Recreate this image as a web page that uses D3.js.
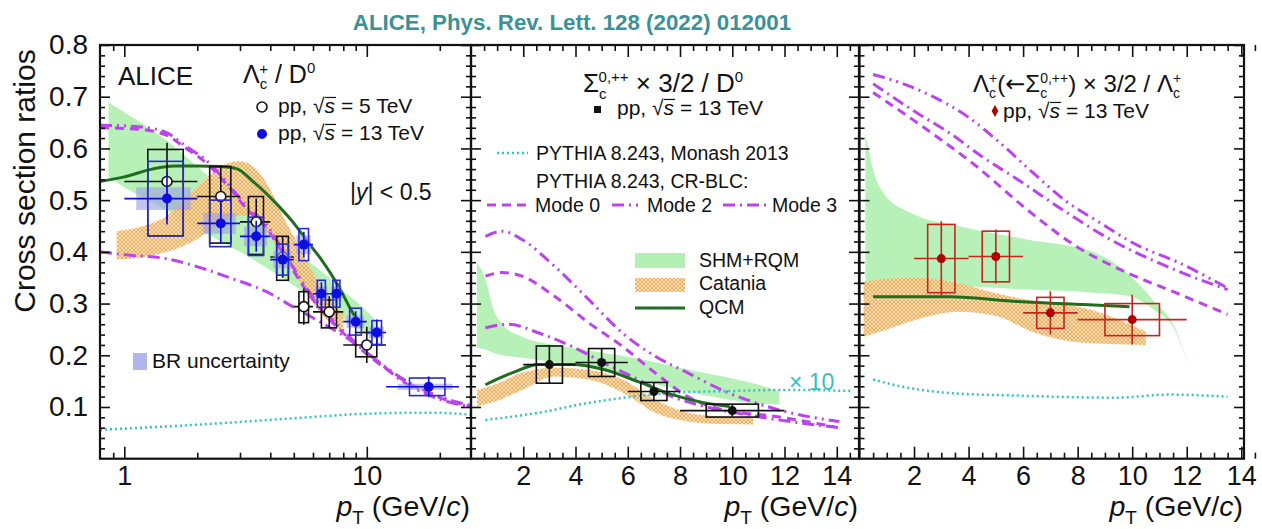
<!DOCTYPE html>
<html><head><meta charset="utf-8">
<script src="https://cdn.jsdelivr.net/npm/d3@7"></script>
<style>
body{margin:0;background:#fff}
svg{display:block}
text{font-family:"Liberation Sans",Arial,Helvetica,sans-serif;fill:#111}
</style>
</head><body>
<svg id="chart" width="1262" height="529"></svg>
<script>
// ---------------- Panel 1: Lambda_c+/D0 ----------------
const lc5_pt   = [1.5, 2.5, 3.5, 4.5, 5.5, 7, 10];
const lc5_lo   = [1, 2, 3, 4, 5, 6, 8];
const lc5_hi   = [2, 3, 4, 5, 6, 8, 12];
const lc5_val  = [0.536, 0.507, 0.458, 0.39, 0.294, 0.284, 0.22];
const lc5_stat = [0.075, 0.06, 0.045, 0.04, 0.035, 0.03, 0.035];
const lc5_sysLo = [0.105, 0.09, 0.063, 0.045, 0.031, 0.031, 0.023];
const lc5_sysHi = [0.062, 0.058, 0.049, 0.04, 0.029, 0.023, 0.024];

const lc13_pt   = [1.5, 2.5, 3.5, 4.5, 5.5, 6.5, 7.5, 9, 11, 18];
const lc13_lo   = [1, 2, 3, 4, 5, 6, 7, 8, 10, 12];
const lc13_hi   = [2, 3, 4, 5, 6, 7, 8, 10, 12, 24];
const lc13_val  = [0.503, 0.455, 0.43, 0.385, 0.414, 0.319, 0.319, 0.265, 0.244, 0.139];
const lc13_stat = [0.05, 0.04, 0.03, 0.028, 0.025, 0.022, 0.022, 0.02, 0.025, 0.02];
const lc13_sys  = [0.072, 0.045, 0.037, 0.03, 0.031, 0.026, 0.026, 0.026, 0.023, 0.017];
const lc13_br   = [0.022, 0.02, 0.019, 0.017, 0.018, 0.014, 0.014, 0.012, 0.011, 0.006];

const shm1_pt = [0.86, 1.0, 1.5, 2.0, 2.5, 3.0, 4.0, 5.0, 6.0, 7.0, 8.0, 9.0, 10.0, 11.0];
const shm1_hi = [0.69, 0.67, 0.615, 0.565, 0.525, 0.49, 0.44, 0.40, 0.375, 0.35, 0.325, 0.305, 0.285, 0.265];
const shm1_lo = [0.545, 0.525, 0.48, 0.445, 0.42, 0.40, 0.365, 0.335, 0.31, 0.29, 0.27, 0.255, 0.24, 0.23];

const cat1_pt = [0.93, 1.2, 1.5, 2.0, 2.5, 3.0, 3.5, 4.0, 4.5, 5.0, 6.0, 7.0, 8.0];
const cat1_hi = [0.44, 0.45, 0.47, 0.525, 0.565, 0.575, 0.56, 0.52, 0.47, 0.43, 0.36, 0.31, 0.28];
const cat1_lo = [0.385, 0.39, 0.40, 0.425, 0.455, 0.47, 0.46, 0.43, 0.39, 0.36, 0.30, 0.265, 0.245];

const qcm1_pt  = [0.794, 1.0, 1.3, 1.6, 2.0, 2.5, 2.9, 3.4, 4.1, 4.95, 5.8, 6.5, 7.5, 8.75, 9.5];
const qcm1_val = [0.536, 0.545, 0.56, 0.566, 0.566, 0.565, 0.561, 0.536, 0.50, 0.458, 0.415, 0.385, 0.34, 0.282, 0.255];

const m0_1_pt  = [0.794, 1.15, 1.5, 1.8, 2.2, 2.65, 3.2, 3.9, 4.5, 5.45, 6.8, 8.75, 11, 15, 20, 26.9];
const m0_1_val = [0.64, 0.637, 0.625, 0.60, 0.57, 0.53, 0.483, 0.443, 0.398, 0.335, 0.277, 0.226, 0.187, 0.145, 0.118, 0.101];
const m2_1_pt  = [0.794, 1.15, 1.5, 1.8, 2.2, 2.65, 3.2, 3.9, 4.5, 5.45, 6.8, 8.75, 11, 15, 20, 26.9];
const m2_1_val = [0.645, 0.642, 0.63, 0.604, 0.575, 0.534, 0.488, 0.449, 0.404, 0.34, 0.282, 0.23, 0.19, 0.147, 0.12, 0.103];
const m3_1_pt  = [0.794, 1.08, 1.44, 2.04, 2.8, 3.86, 4.95, 6.4, 8.5, 11, 13.7, 18.7, 26.9];
const m3_1_val = [0.40, 0.393, 0.388, 0.37, 0.348, 0.323, 0.294, 0.265, 0.23, 0.19, 0.153, 0.12, 0.10];
const mon1_pt  = [0.794, 2.04, 5.3, 10, 18.7, 26.9];
const mon1_val = [0.056, 0.066, 0.079, 0.087, 0.089, 0.085];

// ---------------- Panel 2: Sigma_c x 3/2 / D0 ----------------
const sc_pt   = [3, 5, 7, 10];
const sc_lo   = [2, 4, 6, 8];
const sc_hi   = [4, 6, 8, 12];
const sc_val  = [0.182, 0.186, 0.13, 0.093];
const sc_stat = [0.037, 0.028, 0.018, 0.012];
const sc_sys  = [0.036, 0.027, 0.0175, 0.0125];

const shm2_pt = [0.23, 0.6, 0.85, 1.2, 2.0, 3.0, 4.0, 5.0, 6.0, 7.0, 8.0, 9.0, 10.0, 11.0, 11.8];
const shm2_hi = [0.38, 0.34, 0.29, 0.26, 0.235, 0.222, 0.213, 0.205, 0.197, 0.187, 0.176, 0.165, 0.155, 0.143, 0.13];
const shm2_lo = [0.215, 0.21, 0.205, 0.20, 0.195, 0.188, 0.18, 0.17, 0.158, 0.145, 0.133, 0.122, 0.113, 0.106, 0.105];

const cat2_pt = [0.23, 1.0, 1.95, 3.2, 4.5, 5.8, 7.05, 8.3, 9.5, 10.8];
const cat2_hi = [0.133, 0.145, 0.166, 0.176, 0.172, 0.153, 0.114, 0.089, 0.082, 0.079];
const cat2_lo = [0.101, 0.112, 0.133, 0.159, 0.153, 0.128, 0.089, 0.072, 0.067, 0.066];

const qcm2_pt  = [0.55, 1.57, 2.6, 3.86, 5.12, 6.4, 7.7, 8.95, 9.9];
const qcm2_val = [0.143, 0.166, 0.182, 0.182, 0.172, 0.149, 0.124, 0.108, 0.101];

const m0_2_pt  = [0.55, 1.19, 1.95, 3.2, 4.5, 5.8, 7.05, 8.3, 9.6, 11.6, 13.9];
const m0_2_val = [0.353, 0.36, 0.353, 0.314, 0.263, 0.217, 0.166, 0.12, 0.095, 0.082, 0.062];
const m2_2_pt  = [0.55, 1.19, 1.95, 3.2, 4.5, 5.8, 7.05, 8.3, 9.6, 10.9, 12.2, 14.1];
const m2_2_val = [0.43, 0.44, 0.424, 0.372, 0.308, 0.243, 0.198, 0.166, 0.133, 0.108, 0.089, 0.072];
const m3_2_pt  = [0.55, 1.43, 2.6, 3.86, 5.1, 6.4, 7.7, 8.95, 10.9, 14.1];
const m3_2_val = [0.253, 0.26, 0.243, 0.217, 0.185, 0.153, 0.12, 0.101, 0.082, 0.06];
const mon2_pt  = [0.55, 2.6, 4.5, 6.2, 8.0, 10.0, 12.0, 14.6];
const mon2_val = [0.075, 0.089, 0.108, 0.12, 0.128, 0.131, 0.133, 0.131];

// ---------------- Panel 3: Lambda_c(<-Sigma_c) x 3/2 / Lambda_c ----------------
const lf_pt   = [3, 5, 7, 10];
const lf_lo   = [2, 4, 6, 8];
const lf_hi   = [4, 6, 8, 12];
const lf_val  = [0.387, 0.391, 0.282, 0.269];
const lf_stat = [0.072, 0.052, 0.042, 0.048];
const lf_sys  = [0.066, 0.049, 0.03, 0.031];

const shm3_pt = [0.22, 0.5, 0.88, 1.86, 3.7, 6.14, 8.56, 9.8, 10.75, 11.6, 12.0];
const shm3_hi = [0.63, 0.559, 0.514, 0.476, 0.449, 0.424, 0.40, 0.36, 0.308, 0.25, 0.192];
const shm3_lo = [0.321, 0.325, 0.327, 0.33, 0.333, 0.327, 0.321, 0.315, 0.29, 0.245, 0.19];

const cat3_pt = [0.15, 1.0, 2.1, 3.6, 5.0, 6.4, 8.2, 10.5];
const cat3_hi = [0.342, 0.348, 0.35, 0.34, 0.32, 0.305, 0.292, 0.246];
const cat3_lo = [0.236, 0.25, 0.269, 0.284, 0.276, 0.244, 0.224, 0.22];

const qcm3_pt  = [0.5, 3.3, 5.8, 8.2, 9.9];
const qcm3_val = [0.313, 0.313, 0.304, 0.298, 0.294];

const m0_3_pt  = [0.5, 2.48, 4.3, 6.14, 7.97, 9.8, 11.6, 13.5];
const m0_3_val = [0.708, 0.636, 0.565, 0.482, 0.41, 0.36, 0.321, 0.279];
const m2_3_pt  = [0.5, 1.5, 2.7, 3.95, 5.15, 6.36, 7.6, 8.8, 10, 11.8, 13.5];
const m2_3_val = [0.743, 0.727, 0.70, 0.662, 0.611, 0.553, 0.497, 0.457, 0.418, 0.377, 0.33];
const m3_3_pt  = [0.5, 2.1, 3.3, 4.5, 5.8, 7.6, 9.4, 11.0, 12.2, 13.5];
const m3_3_val = [0.725, 0.669, 0.63, 0.584, 0.54, 0.476, 0.418, 0.378, 0.352, 0.327];
const mon3_pt  = [0.5, 1.5, 3.3, 5.8, 9.4, 11.3, 13.5];
const mon3_val = [0.153, 0.14, 0.127, 0.122, 0.118, 0.124, 0.12];

// ---------------- axis ticks ----------------
const yMajor = [0.1, 0.2, 0.3, 0.4, 0.5, 0.6, 0.7, 0.8];
const yMinor = d3.range(0.02, 0.8, 0.02).filter(v => Math.abs(v * 10 - Math.round(v * 10)) > 1e-6);
const logMajor = [1, 10];
const logMinor = [0.9, 2, 3, 4, 5, 6, 7, 8, 9, 20];
const linMajor = [2, 4, 6, 8, 10, 12, 14];
const linMinor = d3.range(0.5, 15, 0.5).filter(v => v % 2 !== 0);

// ---------------- styles ----------------
const C = {
  shm: "#b3f0b3", qcm: "#1f6e1f", pythia: "#bb44ec", monash: "#33c2c4",
  blue: "#0d0de0", blueBox: "#2a2ad0", br: "#9c9ce8", red: "#c0281c", redPt: "#b00000",
  title: "#3b9196"
};
const DASH = { m0: "9,6", m2: "12,5,2,5,2,5", m3: "12,5,2,5", mon: "2,3" };

const svg = d3.select("#chart");
const yTop = 45, yBot = 458.7;
const y = d3.scaleLinear().domain([0, 0.8]).range([yBot, yTop]);

const defs = svg.append("defs");
const pat = defs.append("pattern").attr("id", "hatch").attr("width", 4).attr("height", 4)
  .attr("patternUnits", "userSpaceOnUse");
pat.append("rect").attr("width", 4).attr("height", 4).attr("fill", "#fcdcb4");
pat.append("path").attr("d", "M0,4 L4,0 M0,0 L4,4").attr("stroke", "#ef9f3c").attr("stroke-width", 0.9);

const panels = [
  { x: d3.scaleLog().domain([0.794, 26.9]).range([100, 471]), log: true },
  { x: d3.scaleLinear().domain([0, 14.85]).range([471, 859]) },
  { x: d3.scaleLinear().domain([0, 14.1]).range([859.5, 1244]) }
];

panels.forEach((p, i) => {
  const [x0, x1] = p.x.range();
  defs.append("clipPath").attr("id", "clip" + i)
    .append("rect").attr("x", x0).attr("y", yTop).attr("width", x1 - x0).attr("height", yBot - yTop);
  p.g = svg.append("g");
  p.plot = p.g.append("g").attr("clip-path", `url(#clip${i})`);
});

function zip(xs, ...cols) { return xs.map((v, i) => [v, ...cols.map(c => c[i])]); }

function band(p, pts, hi, lo, fill, op) {
  const area = d3.area().x(d => p.x(d[0])).y0(d => y(d[2])).y1(d => y(d[1])).curve(d3.curveMonotoneX);
  p.plot.append("path").datum(zip(pts, hi, lo)).attr("d", area).attr("fill", fill).attr("opacity", op);
}
function curve(p, pts, vals, color, width, dash) {
  const line = d3.line().x(d => p.x(d[0])).y(d => y(d[1])).curve(d3.curveMonotoneX);
  p.plot.append("path").datum(zip(pts, vals)).attr("d", line).attr("fill", "none")
    .attr("stroke", color).attr("stroke-width", width).attr("stroke-dasharray", dash || null);
}
function dataSet(p, o) {
  const g = p.plot.append("g");
  const rows = o.pt.map((pt, i) => ({
    pt, lo: o.lo[i], hi: o.hi[i], v: o.val[i], st: o.stat[i],
    sl: (o.sysLo || o.sys)[i], sh: (o.sysHi || o.sys)[i], hw: (o.hi[i] - o.lo[i]) / 4,
    br: o.br ? o.br[i] : 0
  }));
  if (o.br) {
    g.selectAll(null).data(rows).join("rect")
      .attr("x", d => p.x(d.pt - 0.38 * (d.hi - d.lo)))
      .attr("width", d => p.x(d.pt + 0.38 * (d.hi - d.lo)) - p.x(d.pt - 0.38 * (d.hi - d.lo)))
      .attr("y", d => y(d.v + d.br)).attr("height", d => y(d.v - d.br) - y(d.v + d.br))
      .attr("fill", C.br).attr("opacity", 0.6);
  }
  g.selectAll(null).data(rows).join("rect")
    .attr("x", d => p.x(d.pt - d.hw)).attr("width", d => p.x(d.pt + d.hw) - p.x(d.pt - d.hw))
    .attr("y", d => y(d.v + d.sh)).attr("height", d => y(d.v - d.sl) - y(d.v + d.sh))
    .attr("fill", "none").attr("stroke", o.box).attr("stroke-width", 1.6);
  g.selectAll(null).data(rows).join("line")
    .attr("x1", d => p.x(d.lo)).attr("x2", d => p.x(d.hi))
    .attr("y1", d => y(d.v)).attr("y2", d => y(d.v))
    .attr("stroke", o.err).attr("stroke-width", 1.6);
  g.selectAll(null).data(rows).join("line")
    .attr("x1", d => p.x(d.pt)).attr("x2", d => p.x(d.pt))
    .attr("y1", d => y(d.v - d.st)).attr("y2", d => y(d.v + d.st))
    .attr("stroke", o.err).attr("stroke-width", 1.6);
  g.selectAll(null).data(rows).join("circle")
    .attr("cx", d => p.x(d.pt)).attr("cy", d => y(d.v)).attr("r", o.r)
    .attr("fill", o.fill).attr("stroke", o.stroke).attr("stroke-width", o.sw || 0);
}

// ---------- panel 1 ----------
const P1 = panels[0], P2 = panels[1], P3 = panels[2];
band(P1, shm1_pt, shm1_hi, shm1_lo, C.shm, 0.95);
band(P1, cat1_pt, cat1_hi, cat1_lo, "url(#hatch)", 0.9);
curve(P1, mon1_pt, mon1_val, C.monash, 2.5, DASH.mon);
curve(P1, m3_1_pt, m3_1_val, C.pythia, 3, DASH.m3);
curve(P1, m0_1_pt, m0_1_val, C.pythia, 3, DASH.m0);
curve(P1, m2_1_pt, m2_1_val, C.pythia, 3, DASH.m2);
curve(P1, qcm1_pt, qcm1_val, C.qcm, 3);
dataSet(P1, { pt: lc5_pt, lo: lc5_lo, hi: lc5_hi, val: lc5_val, stat: lc5_stat, sysLo: lc5_sysLo, sysHi: lc5_sysHi,
  box: "#111", err: "#111", r: 5, fill: "#fff", stroke: "#111", sw: 1.6 });
dataSet(P1, { pt: lc13_pt, lo: lc13_lo, hi: lc13_hi, val: lc13_val, stat: lc13_stat, sys: lc13_sys, br: lc13_br,
  box: C.blueBox, err: C.blue, r: 5, fill: C.blue, stroke: "none" });

// ---------- panel 2 ----------
band(P2, shm2_pt, shm2_hi, shm2_lo, C.shm, 0.95);
band(P2, cat2_pt, cat2_hi, cat2_lo, "url(#hatch)", 0.9);
curve(P2, mon2_pt, mon2_val, C.monash, 2.5, DASH.mon);
curve(P2, m3_2_pt, m3_2_val, C.pythia, 3, DASH.m3);
curve(P2, m0_2_pt, m0_2_val, C.pythia, 3, DASH.m0);
curve(P2, m2_2_pt, m2_2_val, C.pythia, 3, DASH.m2);
curve(P2, qcm2_pt, qcm2_val, C.qcm, 3);
dataSet(P2, { pt: sc_pt, lo: sc_lo, hi: sc_hi, val: sc_val, stat: sc_stat, sys: sc_sys,
  box: "#111", err: "#111", r: 4.5, fill: "#111", stroke: "none" });

// ---------- panel 3 ----------
band(P3, shm3_pt, shm3_hi, shm3_lo, C.shm, 0.95);
band(P3, cat3_pt, cat3_hi, cat3_lo, "url(#hatch)", 0.9);
curve(P3, mon3_pt, mon3_val, C.monash, 2.5, DASH.mon);
curve(P3, m0_3_pt, m0_3_val, C.pythia, 3, DASH.m0);
curve(P3, m3_3_pt, m3_3_val, C.pythia, 3, DASH.m3);
curve(P3, m2_3_pt, m2_3_val, C.pythia, 3, DASH.m2);
curve(P3, qcm3_pt, qcm3_val, C.qcm, 3);
dataSet(P3, { pt: lf_pt, lo: lf_lo, hi: lf_hi, val: lf_val, stat: lf_stat, sys: lf_sys,
  box: C.red, err: C.red, r: 4.5, fill: C.redPt, stroke: "none" });

// ---------- axes and frames ----------
function styleAxis(sel, fs) {
  sel.select(".domain").remove();
  sel.selectAll(".tick line").attr("stroke", "#111").attr("stroke-width", 1.6);
  sel.selectAll(".tick text").attr("font-size", fs).attr("fill", "#111")
    .attr("font-family", '"Liberation Sans",Arial,sans-serif');
}
panels.forEach((p, i) => {
  const [x0, x1] = p.x.range();
  const maj = p.log ? logMajor : linMajor;
  const mnr = p.log ? logMinor : linMinor;
  const fmt = d => String(d);
  p.g.append("g").attr("transform", `translate(0,${yBot})`)
    .call(d3.axisBottom(p.x).tickValues(maj).tickSize(-12).tickPadding(7).tickFormat(fmt)).call(s => styleAxis(s, 27));
  p.g.append("g").attr("transform", `translate(0,${yBot})`)
    .call(d3.axisBottom(p.x).tickValues(mnr).tickSize(-6).tickFormat("")).call(s => styleAxis(s, 27));
  p.g.append("g").attr("transform", `translate(0,${yTop})`)
    .call(d3.axisTop(p.x).tickValues(maj).tickSize(-12).tickFormat("")).call(s => styleAxis(s, 27));
  p.g.append("g").attr("transform", `translate(0,${yTop})`)
    .call(d3.axisTop(p.x).tickValues(mnr).tickSize(-6).tickFormat("")).call(s => styleAxis(s, 27));
  p.g.append("g").attr("transform", `translate(${x0},0)`)
    .call(d3.axisLeft(y).tickValues(yMajor).tickSize(-10).tickPadding(12)
      .tickFormat(i === 0 ? d3.format(".1f") : "")).call(s => styleAxis(s, 28));
  p.g.append("g").attr("transform", `translate(${x0},0)`)
    .call(d3.axisLeft(y).tickValues(yMinor).tickSize(-5).tickFormat("")).call(s => styleAxis(s, 28));
  p.g.append("g").attr("transform", `translate(${x1},0)`)
    .call(d3.axisRight(y).tickValues(yMajor).tickSize(-10).tickFormat("")).call(s => styleAxis(s, 28));
  p.g.append("g").attr("transform", `translate(${x1},0)`)
    .call(d3.axisRight(y).tickValues(yMinor).tickSize(-5).tickFormat("")).call(s => styleAxis(s, 28));
  p.g.append("rect").attr("x", x0).attr("y", yTop).attr("width", x1 - x0).attr("height", yBot - yTop)
    .attr("fill", "none").attr("stroke", "#111").attr("stroke-width", 2.2);
});

// ---------- text helpers ----------
// Builds a text from tspans; parts flagged "over" get a bar drawn just above the glyph.
function rich(x, yy, size, parts) {
  const t = svg.append("text").attr("x", x).attr("y", yy).attr("font-size", size);
  let idx = 0;
  const bars = [];
  parts.forEach(p => {
    const s = t.append("tspan").text(p.t);
    if (p.size) s.attr("font-size", p.size);
    if (p.dy) s.attr("dy", p.dy);
    if (p.dx) s.attr("dx", p.dx);
    if (p.it) s.attr("font-style", "italic");
    if (p.ff) s.attr("font-family", p.ff);
    if (p.over) bars.push({ start: idx, len: p.t.length, size: p.size || size });
    idx += p.t.length;
  });
  t.bars = bars;
  return t;
}
function drawBars(t) {
  const node = t.node();
  const base = +t.attr("y");
  t.bars.forEach(b => {
    const a = node.getExtentOfChar(b.start);
    const e = node.getExtentOfChar(b.start + b.len - 1);
    svg.append("line").attr("x1", a.x + 0.5).attr("x2", e.x + e.width + 1)
      .attr("y1", base - 0.74 * b.size).attr("y2", base - 0.74 * b.size)
      .attr("stroke", "#111").attr("stroke-width", 1.2);
  });
}
function sqrtS(x, yy, size, rest) {
  const t = rich(x, yy, size, [{ t: "pp, √" }, { t: "s", it: true, over: true }, { t: rest }]);
  drawBars(t);
  return t;
}

// title
svg.append("text").attr("x", 572).attr("y", 30).attr("text-anchor", "middle")
  .attr("font-size", 22.3).attr("font-weight", "bold").style("fill", C.title)
  .text("ALICE, Phys. Rev. Lett. 128 (2022) 012001");

// y axis title
svg.append("text").attr("transform", "translate(35,181) rotate(-90)").attr("text-anchor", "middle")
  .attr("font-size", 30).text("Cross section ratios");

// x axis titles
panels.forEach(p => {
  rich(p.x.range()[1] - 1, 516, 28.5, [{ t: "p", it: true }, { t: "T", size: 19, dy: 8 }, { t: " (GeV/", dy: -8 }, { t: "c", it: true }, { t: ")" }])
    .attr("text-anchor", "end");
});

// panel 1 labels
svg.append("text").attr("x", 118).attr("y", 85).attr("font-size", 26).text("ALICE");
rich(243, 83, 25, [{ t: "Λ" }, { t: "c", size: 15, dy: 6 }, { t: "+", size: 15, dx: -8, dy: -15 }, { t: " / D", dy: 9 }, { t: "0", size: 15, dy: -10 }]);
svg.append("circle").attr("cx", 262).attr("cy", 107).attr("r", 5).attr("fill", "#fff").attr("stroke", "#111").attr("stroke-width", 1.6);
sqrtS(278, 113, 21, " = 5 TeV");
svg.append("circle").attr("cx", 262).attr("cy", 134).attr("r", 5).attr("fill", C.blue);
sqrtS(278, 140, 21, " = 13 TeV");
rich(350, 200, 23, [{ t: "|" }, { t: "y", it: true }, { t: "| < 0.5" }]);
svg.append("rect").attr("x", 133).attr("y", 353).attr("width", 14).attr("height", 17).attr("fill", C.br).attr("opacity", 0.75);
svg.append("text").attr("x", 152).attr("y", 368).attr("font-size", 21).text("BR uncertainty");

// panel 2 labels
rich(583, 92, 26, [{ t: "Σ" }, { t: "c", size: 15, dy: 7 }, { t: "0,++", size: 15, dx: -8, dy: -17 }, { t: " × 3/2 / D", dy: 10 }, { t: "0", size: 15, dy: -10 }]);
svg.append("rect").attr("x", 594).attr("y", 106).attr("width", 7).attr("height", 7).attr("fill", "#111");
sqrtS(617, 115, 21, " = 13 TeV");

function legLine(x1, x2, yy, color, w, dash) {
  svg.append("line").attr("x1", x1).attr("x2", x2).attr("y1", yy).attr("y2", yy)
    .attr("stroke", color).attr("stroke-width", w).attr("stroke-dasharray", dash || null);
}
legLine(497, 528, 153, C.monash, 2.5, DASH.mon);
svg.append("text").attr("x", 536).attr("y", 160).attr("font-size", 19.5).text("PYTHIA 8.243, Monash 2013");
svg.append("text").attr("x", 536).attr("y", 188).attr("font-size", 19.5).text("PYTHIA 8.243, CR-BLC:");
legLine(487, 530, 205, C.pythia, 3, DASH.m0);
svg.append("text").attr("x", 535).attr("y", 212).attr("font-size", 19.5).text("Mode 0");
legLine(612, 643, 205, C.pythia, 3, DASH.m2);
svg.append("text").attr("x", 647).attr("y", 212).attr("font-size", 19.5).text("Mode 2");
legLine(723, 766, 205, C.pythia, 3, DASH.m3);
svg.append("text").attr("x", 772).attr("y", 212).attr("font-size", 19.5).text("Mode 3");

svg.append("rect").attr("x", 635).attr("y", 253).attr("width", 50).attr("height", 15).attr("fill", C.shm);
svg.append("text").attr("x", 699).attr("y", 267).attr("font-size", 19.5).text("SHM+RQM");
svg.append("rect").attr("x", 635).attr("y", 278).attr("width", 50).attr("height", 14).attr("fill", "url(#hatch)").attr("opacity", 0.9);
svg.append("text").attr("x", 699).attr("y", 290).attr("font-size", 19.5).text("Catania");
legLine(635, 685, 308, C.qcm, 3);
svg.append("text").attr("x", 699).attr("y", 314).attr("font-size", 19.5).text("QCM");
svg.append("text").attr("x", 789).attr("y", 390).attr("font-size", 23).style("fill", C.monash).text("× 10");

// panel 3 labels
rich(973, 92, 24, [{ t: "Λ" }, { t: "c", size: 14, dy: 6 }, { t: "+", size: 14, dx: -7, dy: -15 },
  { t: "(", dy: 9 }, { t: "←", ff: '"DejaVu Sans",sans-serif' }, { t: "Σ" }, { t: "c", size: 14, dy: 6 }, { t: "0,++", size: 14, dx: -7, dy: -15 },
  { t: ") × 3/2 / Λ", dy: 9 }, { t: "c", size: 14, dy: 6 }, { t: "+", size: 14, dx: -7, dy: -15 }]);
svg.append("path").attr("d", d3.symbol(d3.symbolDiamond, 40)()).attr("transform", "translate(995,111)").attr("fill", C.redPt);
sqrtS(1003, 118, 21, " = 13 TeV");
</script>
</body></html>
